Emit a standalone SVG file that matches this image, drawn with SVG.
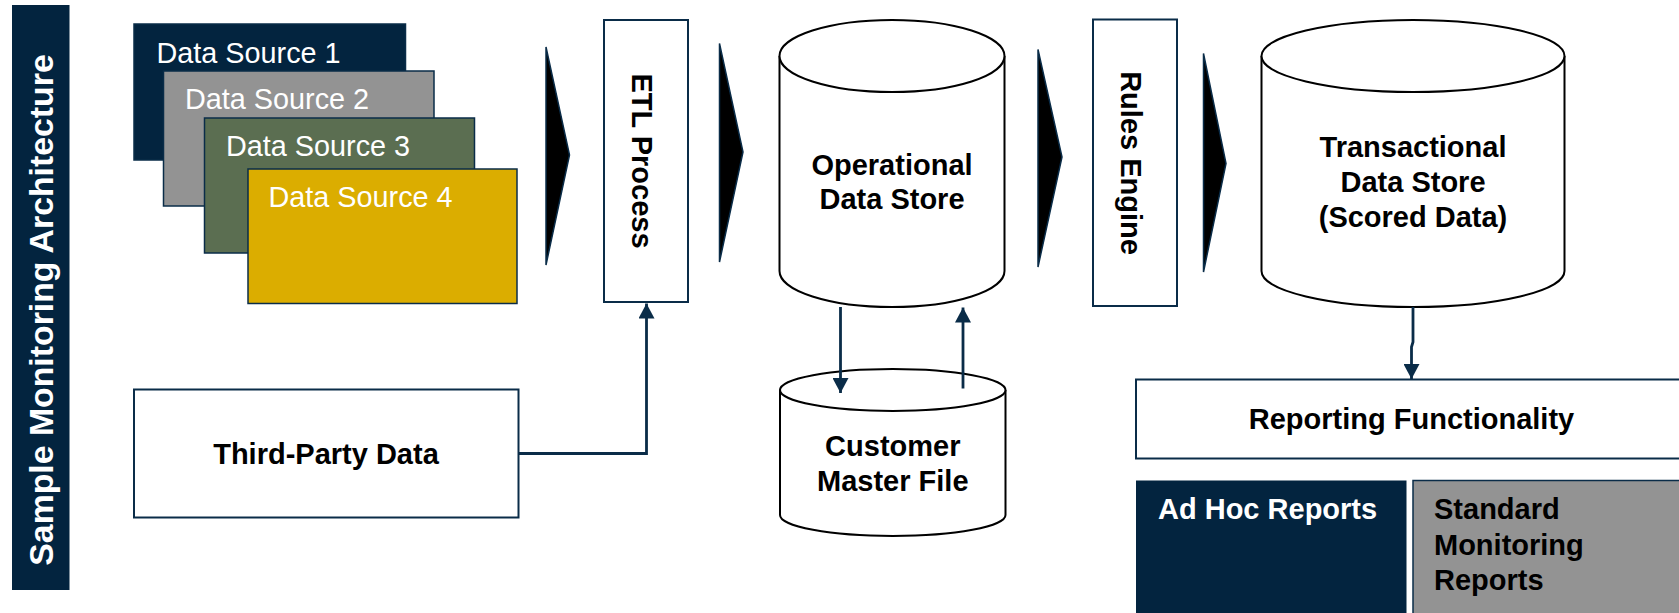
<svg xmlns="http://www.w3.org/2000/svg" width="1679" height="613" viewBox="0 0 1679 613">
<style>
.ds{font-family:"Liberation Sans",Arial,sans-serif;font-size:28.8px;fill:#fff}
.b{font-family:"Liberation Sans",Arial,sans-serif;font-size:29px;font-weight:bold;fill:#000}
.bw{font-family:"Liberation Sans",Arial,sans-serif;font-size:29px;font-weight:bold;fill:#fff}
.ttl{font-family:"Liberation Sans",Arial,sans-serif;font-size:33.8px;font-weight:bold;fill:#fff}
.box{fill:#fff;stroke:#0a2c48;stroke-width:2}
.cyl{fill:#fff;stroke:#000;stroke-width:2}
.chev{fill:#000;stroke:#0a2c48;stroke-width:1.5;stroke-linejoin:miter}
.con{fill:none;stroke:#0a2c48;stroke-width:2.8}
</style>
<defs>
<marker id="ah" viewBox="0 0 15 16" refX="15" refY="8" markerWidth="15" markerHeight="16" markerUnits="userSpaceOnUse" orient="auto">
<path d="M0,0 L15,8 L0,16 Z" fill="#0a2c48"/>
</marker>
</defs>
<rect width="1679" height="613" fill="#fff"/>

<g id="title">
<rect x="12" y="5" width="57.5" height="585" fill="#03243f"/>
<text class="ttl" transform="translate(41,310) rotate(-90)" x="0" y="12" text-anchor="middle">Sample Monitoring Architecture</text>
</g>

<g id="ds1">
<rect x="134" y="24" width="271.5" height="136" fill="#03243f" stroke="#0a2c48" stroke-width="1.5"/>
<text class="ds" x="156.5" y="62.5">Data Source 1</text>
</g>
<g id="ds2">
<rect x="163.5" y="71" width="270.5" height="135" fill="#939393" stroke="#0a2c48" stroke-width="1.5"/>
<text class="ds" x="185" y="109">Data Source 2</text>
</g>
<g id="ds3">
<rect x="204.5" y="118" width="270" height="135" fill="#5b6e51" stroke="#0a2c48" stroke-width="1.5"/>
<text class="ds" x="226" y="156">Data Source 3</text>
</g>
<g id="ds4">
<rect x="248" y="169" width="269" height="134.5" fill="#dbad00" stroke="#0a2c48" stroke-width="1.5"/>
<text class="ds" x="268.5" y="207">Data Source 4</text>
</g>

<g id="chevrons">
<polygon class="chev" points="546,47 569.5,155 546,265"/>
<polygon class="chev" points="719.5,43.5 743,152 719.5,262"/>
<polygon class="chev" points="1038,49.5 1062,157 1038,267"/>
<polygon class="chev" points="1203.5,53.5 1226,163.5 1203.5,272"/>
</g>

<g id="etl">
<rect class="box" x="604" y="20" width="84" height="282"/>
<text class="b" transform="translate(642,161) rotate(90)" x="0" y="10.4" text-anchor="middle">ETL Process</text>
</g>

<g id="ods">
<path class="cyl" d="M779.5,56 A112.5,36 0 0 1 1004.5,56 V271 A112.5,36 0 0 1 779.5,271 Z"/>
<path class="cyl" fill="none" d="M779.5,56 A112.5,36 0 0 0 1004.5,56"/>
<text class="b" x="892" y="175" text-anchor="middle">Operational</text>
<text class="b" x="892" y="208.5" text-anchor="middle">Data Store</text>
</g>

<g id="rules">
<rect class="box" x="1093" y="19.5" width="84" height="286.5"/>
<text class="b" transform="translate(1131,163) rotate(90)" x="0" y="10.4" text-anchor="middle">Rules Engine</text>
</g>

<g id="tds">
<path class="cyl" d="M1261.5,56 A151.5,36 0 0 1 1564.5,56 V271 A151.5,36 0 0 1 1261.5,271 Z"/>
<path class="cyl" fill="none" d="M1261.5,56 A151.5,36 0 0 0 1564.5,56"/>
<text class="b" x="1413" y="156.5" text-anchor="middle">Transactional</text>
<text class="b" x="1413" y="191.5" text-anchor="middle">Data Store</text>
<text class="b" x="1413" y="226.5" text-anchor="middle">(Scored Data)</text>
</g>

<g id="third-party">
<rect class="box" x="134" y="389.5" width="384.5" height="128"/>
<text class="b" x="326" y="464" text-anchor="middle">Third-Party Data</text>
</g>

<g id="cmf">
<path class="cyl" d="M780,390 A112.75,21 0 0 1 1005.5,390 V515 A112.75,21 0 0 1 780,515 Z"/>
<path class="cyl" fill="none" d="M780,390 A112.75,21 0 0 0 1005.5,390"/>
<text class="b" x="892.8" y="455.5" text-anchor="middle">Customer</text>
<text class="b" x="892.8" y="490.5" text-anchor="middle">Master File</text>
</g>

<g id="reporting">
<rect class="box" x="1136" y="379.5" width="600" height="79"/>
<text class="b" x="1411.5" y="429" text-anchor="middle">Reporting Functionality</text>
</g>

<g id="adhoc">
<rect x="1136" y="480.5" width="270.5" height="200" fill="#03243f"/>
<text class="bw" x="1158" y="519">Ad Hoc Reports</text>
</g>

<g id="standard">
<rect x="1413" y="480.5" width="300" height="200" fill="#939393" stroke="#0a2c48" stroke-width="1.5"/>
<text class="b" x="1434" y="519">Standard</text>
<text class="b" x="1434" y="555">Monitoring</text>
<text class="b" x="1434" y="590">Reports</text>
</g>

<g id="connectors">
<path class="con" d="M518.5,453.5 H646.5 V303.5" marker-end="url(#ah)"/>
<path class="con" d="M840.5,307 V393" marker-end="url(#ah)"/>
<path class="con" d="M963,388.5 V307.5" marker-end="url(#ah)"/>
<path class="con" d="M1413,307 V342 L1411.5,347 V379" marker-end="url(#ah)"/>
</g>
</svg>
